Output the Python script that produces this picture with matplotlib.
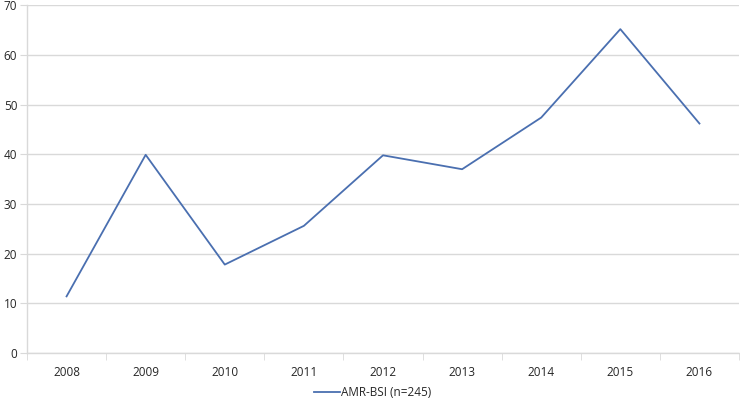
import matplotlib
matplotlib.use("Agg")
import matplotlib.pyplot as plt
from matplotlib.ticker import FixedLocator, NullFormatter

# data
years = ["2008", "2009", "2010", "2011", "2012", "2013", "2014", "2015", "2016"]
amr_bsi = [11.4, 39.9, 17.8, 25.6, 39.8, 37.0, 47.4, 65.2, 46.2]
series_label = "AMR-BSI (n=245)"
y_ticks = [0, 10, 20, 30, 40, 50, 60, 70]

plt.rcParams["font.family"] = ["Open Sans", "DejaVu Sans"]

fig = plt.figure(figsize=(7.4, 4.04), dpi=100)
ax = fig.add_axes([27 / 740, 51 / 404, 712 / 740, (353 - 5.3) / 404])

x = list(range(len(years)))
ax.plot(x, amr_bsi, color="#4a6fb0", linewidth=1.3, label=series_label)

ax.set_xlim(-0.5, len(years) - 0.5)
ax.set_ylim(0, 70)
ax.set_yticks(y_ticks)
ax.set_xticks(x)
ax.set_xticklabels(years)
ax.xaxis.set_minor_locator(FixedLocator([i - 0.5 for i in range(len(years) + 1)]))
ax.xaxis.set_minor_formatter(NullFormatter())

ax.grid(axis="y", color="#d9d9d9", linewidth=1.0)
ax.set_axisbelow(True)

for side in ["top", "right"]:
    ax.spines[side].set_visible(False)
ax.spines["left"].set_color("#d9d9d9")
ax.spines["bottom"].set_color("#d9d9d9")
ax.spines["left"].set_linewidth(1.0)
ax.spines["bottom"].set_linewidth(1.0)

ax.tick_params(axis="y", length=5, color="#d9d9d9", labelsize=8.5, labelcolor="#262626", pad=2)
ax.tick_params(axis="x", which="major", length=0, labelsize=8.5, labelcolor="#262626", pad=9)
ax.tick_params(axis="x", which="minor", length=5, color="#d9d9d9")

ax.legend(loc="upper center", bbox_to_anchor=(0.5 - 10 / 712, -0.075), frameon=False,
          fontsize=8.5, handlelength=2.2, handletextpad=0.1, labelcolor="#262626",
          borderaxespad=0.2)

fig.savefig("out.png", dpi=100)
